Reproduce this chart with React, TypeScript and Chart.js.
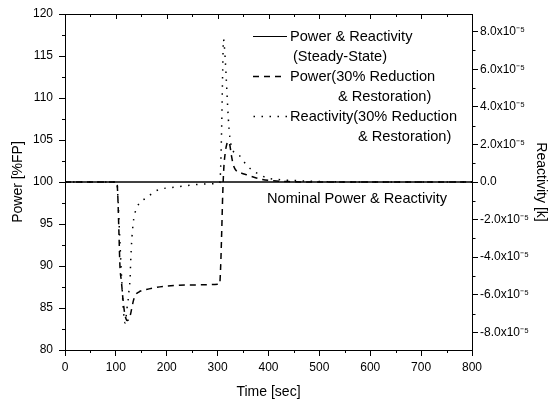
import React, { useEffect, useRef } from 'react';
import { Chart, registerables } from 'chart.js';

Chart.register(...registerables);

const FONT = "'Liberation Sans', Arial, Helvetica, sans-serif";

// ---- axes / ticks ----
const timeTicks = [0, 100, 200, 300, 400, 500, 600, 700, 800];
const timeMinorTicks = [50, 150, 250, 350, 450, 550, 650, 750];
const powerTicks = [80, 85, 90, 95, 100, 105, 110, 115, 120];
const powerMinorTicks = [82.5, 87.5, 92.5, 97.5, 102.5, 107.5, 112.5, 117.5];
const reactivityTicks = [-8e-5, -6e-5, -4e-5, -2e-5, 0, 2e-5, 4e-5, 6e-5, 8e-5];
const reactivityMinorTicks = [-7e-5, -5e-5, -3e-5, -1e-5, 1e-5, 3e-5, 5e-5, 7e-5];
const reactivityRange = [-8.94e-5, 8.94e-5];

// ---- series ----
const steadyTime = [0, 800];
const steadyPower = [100, 100];
const steadyReactivity = [0, 0];

const powerTime = [0, 102, 104, 106, 108, 111, 114, 117, 120, 123, 126, 129, 132, 135, 138, 145, 160, 175, 200, 250, 304,
  306, 308, 310, 312, 315, 318, 321, 324, 327, 331, 336, 345, 355, 370, 388, 410, 440, 480, 800];
const powerValue = [100, 100, 98, 94, 90, 88.1, 86, 84.5, 83.7, 83.5, 83.8, 84.3, 85.2, 86.0, 86.5, 86.9, 87.2, 87.4, 87.6, 87.75, 87.85,
  90, 94, 98.5, 101.5, 103.5, 104.5, 104.8, 104.4, 103.2, 102, 101.4, 101.1, 100.9, 100.6, 100.3, 100.15, 100.05, 100, 100];

const reactTime = [0, 102, 104, 106, 108, 110, 112, 114, 116, 118, 120, 122, 124, 126, 128, 129, 131, 134, 138, 147, 160, 178, 220, 285, 304,
  306, 308, 310, 311.5, 313, 315, 317, 319, 321, 324, 328, 334, 341, 348, 354, 367, 383, 397, 420, 450, 500, 560, 800];
const reactValue = [0, 0, -0.8e-5, -2e-5, -3.2e-5, -4.4e-5, -5.5e-5, -6.5e-5, -7.2e-5, -7.5e-5, -7.2e-5, -6.7e-5, -6.3e-5, -5.7e-5, -5.1e-5, -4.3e-5, -3.2e-5, -2.2e-5, -1.6e-5, -1.1e-5, -0.85e-5, -0.48e-5, -0.26e-5, -0.1e-5, -0.05e-5,
  0.8e-5, 3.0e-5, 6.0e-5, 7.6e-5, 7.3e-5, 6.5e-5, 5.5e-5, 4.4e-5, 3.4e-5, 2.4e-5, 1.8e-5, 1.55e-5, 1.45e-5, 1.25e-5, 1.0e-5, 0.65e-5, 0.39e-5, 0.22e-5, 0.13e-5, 0.08e-5, 0.03e-5, 0, 0];

const legendLabels = ['Power & Reactivity', '(Steady-State)', 'Power(30% Reduction', '& Restoration)', 'Reactivity(30% Reduction', '& Restoration)'];
const annotationText = 'Nominal Power & Reactivity';
const axisTitles = { x: 'Time [sec]', y: 'Power [%FP]', y2: 'Reactivity [k]' };

const DASH = [6, 5];
const DOT = [1.5, 6.5];

const toXY = (xs: number[], ys: number[]) => xs.map((x, i) => ({ x, y: ys[i] }));

const decorPlugin = {
  id: 'decor',
  afterDraw(chart: any) {
    const ctx = chart.ctx as CanvasRenderingContext2D;
    const { left, right, top, bottom } = chart.chartArea;
    const sx = chart.scales.x, sy = chart.scales.y, sy2 = chart.scales.y2;
    ctx.save();
    ctx.strokeStyle = '#000';
    ctx.lineWidth = 1;
    ctx.setLineDash([]);
    ctx.beginPath();
    // top border
    ctx.moveTo(left, Math.round(top) + 0.5);
    ctx.lineTo(right + 1, Math.round(top) + 0.5);
    // top inward ticks
    timeTicks.forEach((v) => {
      const px = Math.round(sx.getPixelForValue(v)) + 0.5;
      ctx.moveTo(px, top);
      ctx.lineTo(px, top + 5);
    });
    timeMinorTicks.forEach((v) => {
      const px = Math.round(sx.getPixelForValue(v)) + 0.5;
      ctx.moveTo(px, top);
      ctx.lineTo(px, top + 3);
      ctx.moveTo(px, bottom);
      ctx.lineTo(px, bottom + 3);
    });
    powerMinorTicks.forEach((v) => {
      const py = Math.round(sy.getPixelForValue(v)) + 0.5;
      ctx.moveTo(left - 3, py);
      ctx.lineTo(left, py);
    });
    reactivityMinorTicks.forEach((v) => {
      const py = Math.round(sy2.getPixelForValue(v)) + 0.5;
      ctx.moveTo(right, py);
      ctx.lineTo(right + 3.5, py);
    });
    ctx.stroke();

    // legend
    const rowY = (i: number) => 36.5 + 20 * i;
    ctx.lineWidth = 1;
    ctx.beginPath();
    ctx.moveTo(253, rowY(0));
    ctx.lineTo(287, rowY(0));
    ctx.stroke();
    ctx.lineWidth = 1.5;
    ctx.setLineDash(DASH);
    ctx.beginPath();
    ctx.moveTo(253, rowY(2));
    ctx.lineTo(282, rowY(2));
    ctx.stroke();
    ctx.setLineDash(DOT);
    ctx.beginPath();
    ctx.moveTo(253.5, rowY(4));
    ctx.lineTo(288, rowY(4));
    ctx.stroke();
    ctx.setLineDash([]);

    ctx.fillStyle = '#000';
    ctx.font = `14.6px ${FONT}`;
    ctx.textBaseline = 'middle';
    ctx.textAlign = 'left';
    const xs = [290, 293, 290, 338, 290, 358];
    legendLabels.forEach((t, i) => ctx.fillText(t, xs[i], rowY(i)));

    // annotation
    ctx.fillText(annotationText, 267, 199);
    ctx.restore();
  },
};

export default function App() {
  const ref = useRef<HTMLCanvasElement | null>(null);
  useEffect(() => {
    if (!ref.current) return;
    const tickFont = { family: FONT, size: 12 };
    const titleFont = { family: FONT, size: 14 };
    const chart = new Chart(ref.current, {
      type: 'line',
      data: {
        datasets: [
          {
            label: 'Power (30% Reduction & Restoration)',
            data: toXY(powerTime, powerValue),
            yAxisID: 'y',
            borderColor: '#000',
            borderWidth: 1.5,
            borderDash: DASH,
            pointRadius: 0,
            cubicInterpolationMode: 'monotone',
            order: 1,
          },
          {
            label: 'Reactivity (30% Reduction & Restoration)',
            data: toXY(reactTime, reactValue),
            yAxisID: 'y2',
            borderColor: '#000',
            borderWidth: 1.5,
            borderDash: DOT,
            pointRadius: 0,
            cubicInterpolationMode: 'monotone',
            order: 0,
          },
          {
            label: 'Power (Steady-State)',
            data: toXY(steadyTime, steadyPower),
            yAxisID: 'y',
            borderColor: '#000',
            borderWidth: 1,
            pointRadius: 0,
            order: 3,
          },
          {
            label: 'Reactivity (Steady-State)',
            data: toXY(steadyTime, steadyReactivity),
            yAxisID: 'y2',
            borderColor: '#000',
            borderWidth: 1,
            pointRadius: 0,
            order: 2,
          },
        ],
      },
      options: {
        responsive: false,
        animation: false,
        devicePixelRatio: 1,
        layout: { padding: { top: 14, left: 0, right: 0, bottom: 0 } },
        plugins: { legend: { display: false }, tooltip: { enabled: false } },
        scales: {
          x: {
            type: 'linear',
            min: 0,
            max: 800,
            afterFit: (s: any) => { s.height = 57; },
            afterBuildTicks: (s: any) => { s.ticks = timeTicks.map((v) => ({ value: v })); },
            grid: { drawOnChartArea: false, drawTicks: true, tickLength: 6, color: '#000', tickColor: '#000' },
            border: { display: true, color: '#000', width: 1 },
            ticks: { color: '#000', font: tickFont, padding: 4, maxRotation: 0, autoSkip: false },
            title: { display: true, text: axisTitles.x, color: '#000', font: titleFont, padding: { top: 0, bottom: 6.6 } },
          },
          y: {
            type: 'linear',
            position: 'left',
            min: 80,
            max: 120,
            afterFit: (s: any) => { s.width = 65; },
            afterBuildTicks: (s: any) => { s.ticks = powerTicks.map((v) => ({ value: v })); },
            grid: { drawOnChartArea: false, drawTicks: true, tickLength: 6, color: '#000', tickColor: '#000' },
            border: { display: true, color: '#000', width: 1 },
            ticks: { color: '#000', font: tickFont, padding: 6, autoSkip: false },
            title: { display: true, text: axisTitles.y, color: '#000', font: titleFont, padding: { top: 9.6, bottom: 0 } },
          },
          y2: {
            type: 'linear',
            position: 'right',
            min: reactivityRange[0],
            max: reactivityRange[1],
            afterFit: (s: any) => { s.width = 78; },
            afterBuildTicks: (s: any) => { s.ticks = reactivityTicks.map((v) => ({ value: v })); },
            grid: { drawOnChartArea: false, drawTicks: true, tickLength: 6, color: '#000', tickColor: '#000' },
            border: { display: true, color: '#000', width: 1 },
            ticks: {
              color: '#000',
              font: tickFont,
              padding: 2,
              autoSkip: false,
              callback: (v: any) => (Math.abs(v) < 1e-12 ? '0.0' : `${(v * 1e5).toFixed(1)}x10⁻⁵`),
            },
            title: { display: true, text: axisTitles.y2, color: '#000', font: titleFont, padding: { top: 0.6, bottom: 0 } },
          },
        },
      },
      plugins: [decorPlugin],
    } as any);
    return () => chart.destroy();
  }, []);
  return (
    <div style={{ position: 'absolute', left: 0, top: 0, width: 550, height: 407, background: '#fff' }}>
      <canvas ref={ref} width={550} height={407} style={{ display: 'block' }} />
    </div>
  );
}
